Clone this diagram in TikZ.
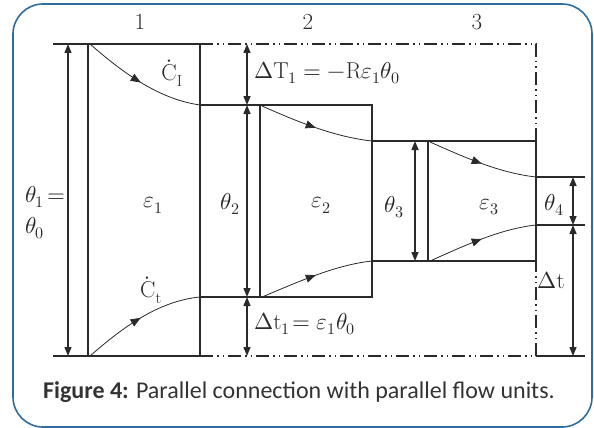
\documentclass[tikz,border=0pt]{standalone}
\usepackage{fontspec}
\usepackage{unicode-math}
\setmathfont{Latin Modern Math}
\newfontfamily\capfont{Carlito}
\usetikzlibrary{arrows.meta,decorations.markings}
\definecolor{frame}{HTML}{2E6B9E}
\definecolor{ink}{HTML}{2A2A2A}
\begin{document}
\begin{tikzpicture}[x=1pt,y=-1pt,
  ln/.style={line width=1.4pt, draw=ink},
  dd/.style={line width=1.2pt, draw=ink, dash pattern=on 13pt off 4pt on 1.5pt off 4pt on 1.5pt off 4pt},
  dim/.style={line width=1.4pt, draw=ink, {Triangle[length=9pt,width=7pt]}-{Triangle[length=9pt,width=7pt]}},
  flow/.style={line width=0.8pt, draw=ink, postaction={decorate},
    decoration={markings, mark=at position 0.5 with {\arrow[ink]{Triangle[length=10pt,width=8pt]}}}},
  lab/.style={font=\fontsize{23}{27}\selectfont, inner sep=0pt, text=ink},
  captext/.style={font=\capfont\fontsize{24}{28}\selectfont, inner sep=0pt, text=black!80}]
\useasboundingbox (0,0) rectangle (594,428);
\draw[line width=1.6pt, draw=frame, rounded corners=30pt] (13,4) rectangle (592,427);
% box 1
\draw[ln] (53,44) -- (200,44) -- (200,356) -- (53,356);
\draw[ln] (88,44) -- (88,356);
% dash-dot envelope
\draw[dd] (200,44) -- (536,44) -- (536,141);
\draw[dd] (200,356) -- (536,356) -- (536,261);
\draw[ln] (536,356) -- (585,356);
% box 2
\draw[ln] (200,105) -- (372,105) -- (372,297) -- (200,297);
\draw[ln] (260,105) -- (260,297);
% box 3
\draw[ln] (372,141) -- (536,141) -- (536,261) -- (372,261);
\draw[ln] (428,141) -- (428,261);
% right ticks
\draw[ln] (536,177) -- (585,177);
\draw[ln] (536,225) -- (585,225);
% dimension arrows
\coordinate (a1t) at (68,44); \coordinate (a1b) at (68,356);
\draw[dim] (a1t) -- (a1b);
\coordinate (a2a) at (247,44); \coordinate (a2b) at (247,105);
\coordinate (a2c) at (247,297); \coordinate (a2d) at (247,356);
\draw[dim] (a2a) -- (a2b);
\draw[dim] (a2b) -- (a2c);
\draw[dim] (a2c) -- (a2d);
\coordinate (a3a) at (415,141); \coordinate (a3b) at (415,261);
\draw[dim] (a3a) -- (a3b);
\coordinate (a4a) at (573,177); \coordinate (a4b) at (573,225); \coordinate (a4c) at (573,356);
\draw[dim] (a4a) -- (a4b);
\draw[dim] (a4b) -- (a4c);
% flow curves
\draw[flow] (90,44) .. controls (122,72) and (158,99) .. (200,105);
\draw[flow] (90,356) .. controls (122,328) and (158,301) .. (200,297);
\draw[flow] (262,106) .. controls (298,122) and (335,137) .. (372,141);
\draw[flow] (262,297) .. controls (298,282) and (335,265) .. (372,261);
\draw[flow] (430,142) .. controls (466,158) and (500,173) .. (536,177);
\draw[flow] (430,261) .. controls (466,245) and (500,229) .. (536,225);
% labels
\node[lab] (n1) at (140,22) {1};
\node[lab] (n2) at (308,22) {2};
\node[lab] (n3) at (477,22) {3};
\node[lab] (ci) at (172,73) {$\dot{\mathrm{C}}_{\mathrm{I}}$};
\node[lab] (ct) at (151,290) {$\dot{\mathrm{C}}_{\mathrm{t}}$};
\node[lab,anchor=west] (th1) at (25,197) {$\theta_1 \!=$};
\node[lab,anchor=west] (th0) at (25,228) {$\theta_0$};
\node[lab] (e1) at (153,205) {$\varepsilon_1$};
\node[lab] (t2) at (230,204) {$\theta_2$};
\node[lab] (e2) at (321,205) {$\varepsilon_2$};
\node[lab] (t3) at (394,207) {$\theta_3$};
\node[lab] (e3) at (489,207) {$\varepsilon_3$};
\node[lab] (t4) at (554,205) {$\theta_4$};
\node[lab,anchor=west] (dT) at (254,73) {$\Delta\mathrm{T}_1 = -\mathrm{R}\varepsilon_1\theta_0$};
\node[lab,anchor=west] (dt1) at (254,324) {$\Delta\mathrm{t}_1\!= \varepsilon_1\theta_0$};
\node[lab] (dt) at (551,280) {$\Delta\mathrm{t}$};
\node[captext] (caption) at (299,392) {\textbf{Figure 4:} Parallel connection with parallel flow units.};
\end{tikzpicture}
\end{document}
